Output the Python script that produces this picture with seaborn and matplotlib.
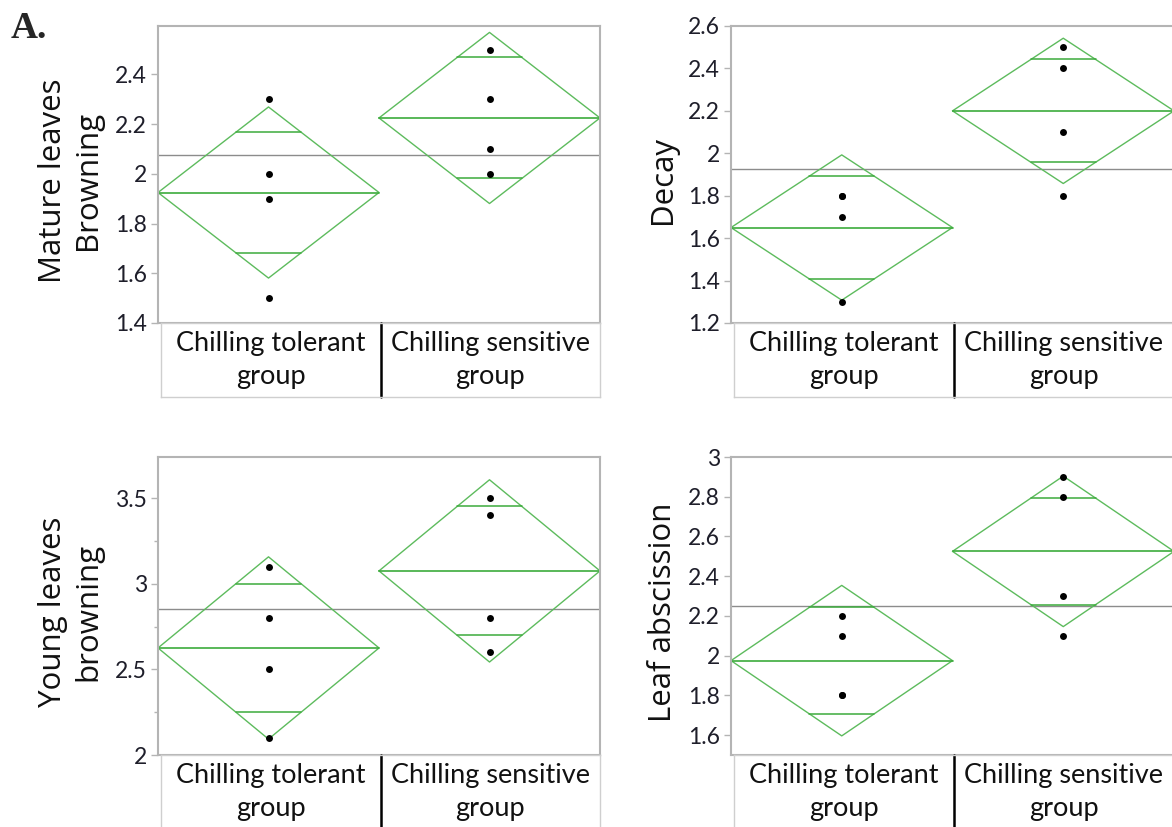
import numpy as np
import pandas as pd
import matplotlib
matplotlib.use("Agg")
import matplotlib.pyplot as plt
import seaborn as sns

# ---- data -------------------------------------------------------------
groups = ["Chilling tolerant group", "Chilling sensitive group"]
group_labels = ["Chilling tolerant\ngroup", "Chilling sensitive\ngroup"]

mature_tolerant = [2.3, 2.0, 1.9, 1.5]
mature_sensitive = [2.5, 2.3, 2.1, 2.0]

decay_tolerant = [1.8, 1.8, 1.7, 1.3]
decay_sensitive = [2.5, 2.4, 2.1, 1.8]

young_tolerant = [3.1, 2.8, 2.5, 2.1]
young_sensitive = [3.5, 3.4, 2.8, 2.6]

abscission_tolerant = [2.2, 2.1, 1.8, 1.8]
abscission_sensitive = [2.9, 2.8, 2.3, 2.1]

ylabels = ["Mature leaves\nBrowning", "Decay", "Young leaves\nbrowning", "Leaf abscission"]
yticks_mature = [1.4, 1.6, 1.8, 2.0, 2.2, 2.4]
yticks_decay = [1.2, 1.4, 1.6, 1.8, 2.0, 2.2, 2.4, 2.6]
yticks_young = [2.0, 2.5, 3.0, 3.5]
yticks_abscission = [1.6, 1.8, 2.0, 2.2, 2.4, 2.6, 2.8, 3.0]

# 97.5% quantile of Student's t with 6 degrees of freedom
T_975_DF6 = 2.4469

# ---- style ------------------------------------------------------------
sns.set_style("white")
plt.rcParams["font.family"] = ["Lato", "DejaVu Sans"]

W, H = 1172, 827
fig = plt.figure(figsize=(W / 100, H / 100), dpi=100)

SPINE = "#b4b4b4"
GREEN = "#5dbb5d"
GREEN_MEAN = "#3cab3c"


def px_axes(x0, y0, x1, y1):
    return fig.add_axes([x0 / W, 1 - y1 / H, (x1 - x0) / W, (y1 - y0) / H])


def means_diamond_panel(ax, tol, sen, yticks, ylim, ylabel, label_x, minor=None):
    df = pd.DataFrame({
        "group": [groups[0]] * len(tol) + [groups[1]] * len(sen),
        "value": list(tol) + list(sen),
    })
    samples = [np.asarray(tol, float), np.asarray(sen, float)]
    means = [s.mean() for s in samples]
    sse = sum(((s - s.mean()) ** 2).sum() for s in samples)
    dof = sum(len(s) for s in samples) - len(samples)
    rmse = np.sqrt(sse / dof)
    grand = df["value"].mean()

    ax.axhline(grand, color="#8c8c8c", lw=1.0, zorder=1)

    for i, (s, m) in enumerate(zip(samples, means)):
        ci = T_975_DF6 * rmse / np.sqrt(len(s))
        ax.plot([i - 0.5, i, i + 0.5, i, i - 0.5],
                [m, m + ci, m, m - ci, m], color=GREEN, lw=1.0, zorder=2)
        ax.plot([i - 0.5, i + 0.5], [m, m], color=GREEN_MEAN, lw=1.2, zorder=2)
        ov = ci / np.sqrt(2)
        hw = 0.5 * (1 - ov / ci)
        for yy in (m + ov, m - ov):
            ax.plot([i - hw, i + hw], [yy, yy], color=GREEN_MEAN, lw=1.1, zorder=2)

    sns.stripplot(data=df, x="group", y="value", order=groups, jitter=False,
                  color="black", size=5, ax=ax, zorder=3)

    ax.set_xlim(-0.5, 1.5)
    ax.set_ylim(*ylim)
    ax.set_xticks([])
    ax.set_xlabel("")
    ax.set_ylabel("")
    ax.set_yticks(yticks)
    ax.set_yticklabels([f"{v:g}" for v in yticks])
    if minor is not None:
        ax.set_yticks(minor, minor=True)
    ax.tick_params(axis="y", which="major", direction="out", length=5, width=1,
                   color=SPINE, pad=3, labelsize=16.5, labelcolor="#1e1e2a", left=True)
    ax.tick_params(axis="y", which="minor", direction="out", length=3, width=1,
                   color=SPINE, left=True)
    for sp in ax.spines.values():
        sp.set_visible(True)
        sp.set_color(SPINE)
        sp.set_linewidth(1.5)

    ax.text(label_x, 0.48, ylabel, transform=ax.transAxes, rotation=90,
            ha="center", va="center", fontsize=22.5, family=["Open Sans", "DejaVu Sans"],
            color="#111111", linespacing=1.25)


def category_box(x0, y0, x1, y1):
    bx = px_axes(x0, y0, x1, y1)
    bx.set_xlim(0, 1)
    bx.set_ylim(0, 1)
    bx.set_xticks([])
    bx.set_yticks([])
    for sp in bx.spines.values():
        sp.set_color("#cfcfcf")
        sp.set_linewidth(1.0)
    bx.plot([0.5, 0.5], [0, 1], color="black", lw=1.8, clip_on=False)
    for j, lab in enumerate(group_labels):
        bx.text(0.25 + 0.5 * j, 0.5, lab, ha="center", va="center",
                fontsize=19.5, color="#111111", linespacing=1.4)
    return bx


panels = [
    (158, 26, 600, 323, mature_tolerant, mature_sensitive, yticks_mature, (1.4, 2.595),
     ylabels[0], -0.198, None),
    (731, 26, 1174, 323, decay_tolerant, decay_sensitive, yticks_decay, (1.2, 2.6),
     ylabels[1], -0.153, None),
    (158, 457, 600, 755, young_tolerant, young_sensitive, yticks_young, (2.0, 3.74),
     ylabels[2], -0.198, [2.25, 2.75, 3.25]),
    (731, 457, 1174, 755, abscission_tolerant, abscission_sensitive, yticks_abscission, (1.5, 3.0),
     ylabels[3], -0.153, None),
]

for x0, y0, x1, y1, tol, sen, yt, yl, lab, lx, minor in panels:
    ax = px_axes(x0, y0, x1, y1)
    means_diamond_panel(ax, tol, sen, yt, yl, lab, lx, minor)
    category_box(x0 + 3, y1, x1, y1 + 74)

fig.text(11 / W, 1 - 29 / H, "A.", fontsize=27, fontweight="bold",
         family=["Liberation Serif", "DejaVu Serif"], ha="left", va="center")

fig.savefig("out.png", dpi=100)
